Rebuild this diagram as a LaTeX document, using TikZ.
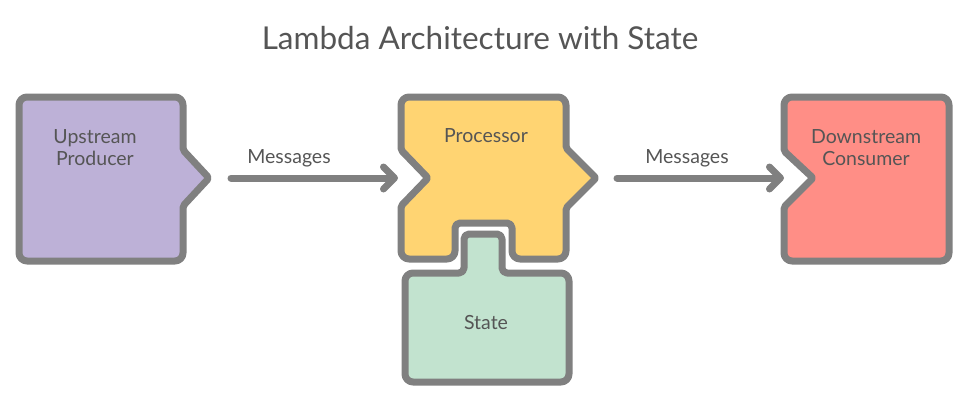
\documentclass[tikz,border=0pt]{standalone}
\usepackage{fontspec}
\setmainfont{Lato}
\usetikzlibrary{arrows.meta}
\definecolor{edgegray}{HTML}{808080}
\definecolor{textgray}{HTML}{555555}
\definecolor{upfill}{HTML}{BDB1D7}
\definecolor{procfill}{HTML}{FFD472}
\definecolor{statefill}{HTML}{C2E3CF}
\definecolor{downfill}{HTML}{FF8E86}
\begin{document}
\begin{tikzpicture}[x=1pt, y=-1pt,
  block/.style = {draw=edgegray, line width=7pt, rounded corners=8pt, line join=round},
  label/.style = {text=textgray, font=\fontsize{19.5}{22}\selectfont, align=center},
  flow/.style = {draw=edgegray, line width=7pt, line cap=round,
    -{Straight Barb[length=11pt, width=22pt, line cap=round, line join=round]}}]
\useasboundingbox (0,0) rectangle (960,404);
\node[text=textgray, font=\fontsize{31.5}{36}\selectfont, anchor=base] (title) at (480,50) {Lambda Architecture with State};
% upstream producer
\draw[block, fill=upfill] (19,97) -- (183,97) [rounded corners=2pt] -- (183,150) -- (209,178) -- (183,206) [rounded corners=8pt] -- (183,261) -- (19,261) -- cycle;
\coordinate (up) at (209,178);
\node[label] (uptext) at (95,148) {Upstream\\Producer};
% processor
\draw[block, fill=procfill] (401,97) -- (566,97) [rounded corners=2pt] -- (566,148) -- (596,178) -- (566,208) [rounded corners=8pt] -- (566,259) -- (512,259) [rounded corners=5pt] -- (512,223) -- (455,223) [rounded corners=8pt] -- (455,259) -- (401,259) [rounded corners=2pt] -- (401,206) -- (428,178) -- (401,150) [rounded corners=8pt] -- cycle;
\coordinate (procin) at (401,178);
\coordinate (procout) at (596,178);
\node[label, anchor=base] (proctext) at (486,142) {Processor};
% state
\draw[block, fill=statefill] (405,273) [rounded corners=5pt] -- (464,273) -- (464,234) -- (502,234) -- (502,273) [rounded corners=8pt] -- (569,273) -- (569,382) -- (405,382) -- cycle;
\node[label, anchor=base] (statetext) at (486,329) {State};
% downstream consumer
\draw[block, fill=downfill] (784,97) -- (949,97) -- (949,261) -- (784,261) [rounded corners=2pt] -- (784,207) -- (813,178) -- (784,151) [rounded corners=8pt] -- cycle;
\coordinate (down) at (784,178);
\node[label] (downtext) at (866,148) {Downstream\\Consumer};
% messages
\draw[flow, shorten <=22pt, shorten >=3pt] (up) -- (procin);
\draw[flow, shorten <=21pt, shorten >=0pt] (procout) -- (down);
\node[label, anchor=base] (msg1) at (289,163) {Messages};
\node[label, anchor=base] (msg2) at (687,163) {Messages};
\end{tikzpicture}
\end{document}
